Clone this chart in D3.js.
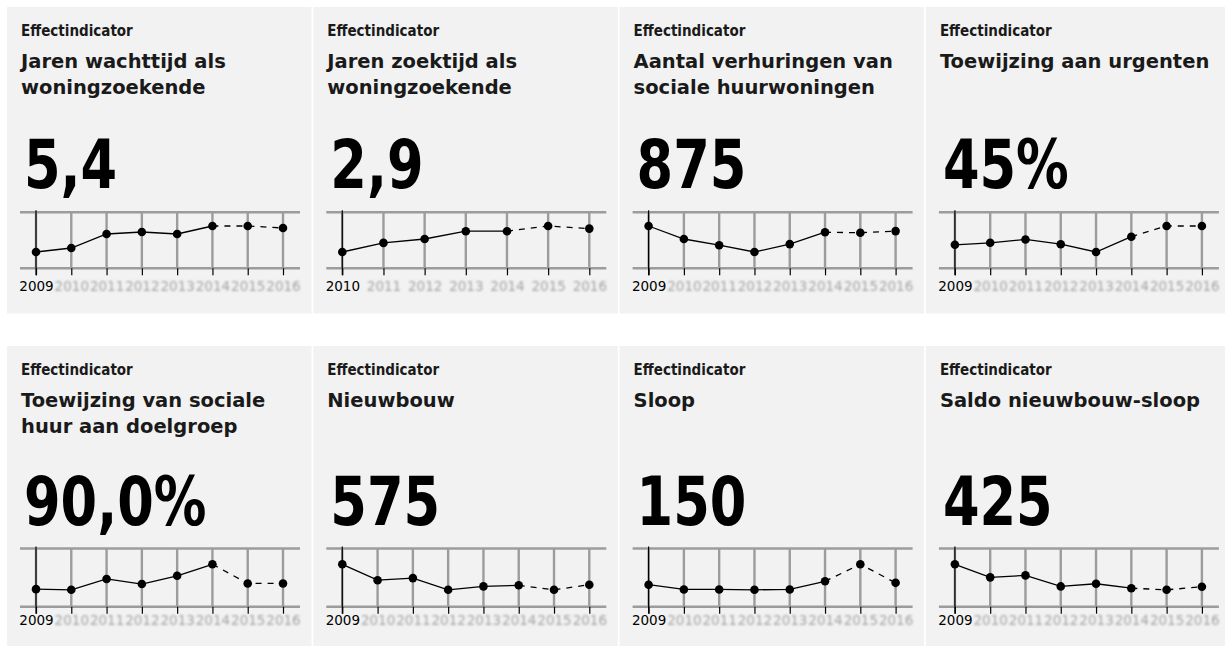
<!DOCTYPE html>
<html><head><meta charset="utf-8">
<script src="https://cdn.jsdelivr.net/npm/d3@7"></script>
<style>
html,body{margin:0;padding:0;background:#fff;}
svg{display:block;}
</style></head>
<body>
<svg id="chart" width="1225" height="646"></svg>
<script>
// ---------- data ----------
const label = "Effectindicator";
const titles = [
  ["Jaren wachttijd als", "woningzoekende"],
  ["Jaren zoektijd als", "woningzoekende"],
  ["Aantal verhuringen van", "sociale huurwoningen"],
  ["Toewijzing aan urgenten"],
  ["Toewijzing van sociale", "huur aan doelgroep"],
  ["Nieuwbouw"],
  ["Sloop"],
  ["Saldo nieuwbouw-sloop"]
];
const headlines = ["5,4", "2,9", "875", "45%", "90,0%", "575", "150", "425"];
const yearsFrom2009 = [2009, 2010, 2011, 2012, 2013, 2014, 2015, 2016];
const yearsFrom2010 = [2010, 2011, 2012, 2013, 2014, 2015, 2016];
const forecastStart = 2014;

const wachttijd   = [4.1, 4.3, 5.0, 5.1, 5.0, 5.4, 5.4, 5.3];
const zoektijd    = [2.1, 2.45, 2.6, 2.9, 2.9, 3.1, 3.0];
const verhuringen = [930, 815, 760, 700, 770, 875, 870, 885];
const urgenten    = [39.7, 41.0, 43.2, 40.1, 35.0, 45.0, 52.0, 52.0];
const doelgroep   = [86.1, 86.0, 87.7, 86.9, 88.2, 90.0, 87.0, 87.0];
const nieuwbouw   = [925, 660, 695, 500, 557, 575, 500, 585];
const sloop       = [130, 102, 102, 100, 102, 150, 250, 141];
const saldo       = [800, 595, 626, 453, 495, 425, 400, 447];

const panelYears = [yearsFrom2009, yearsFrom2010, yearsFrom2009, yearsFrom2009,
                    yearsFrom2009, yearsFrom2009, yearsFrom2009, yearsFrom2009];
const panelValues = [wachttijd, zoektijd, verhuringen, urgenten,
                     doelgroep, nieuwbouw, sloop, saldo];

// ---------- layout ----------
const W = 304.5, H = 306.5, pitchX = 306.3, pitchY = 339, x0 = 7, y0 = 7;
const rowLayout = [
  {bandTop: 205.3, bandBottom: 261.3, dotTop: 219, dotBottom: 245, number: 181, tickLabel: 284},
  {bandTop: 202.5, bandBottom: 260.7, dotTop: 218.3, dotBottom: 243.8, number: 179, tickLabel: 279}
];

const svg = d3.select("#chart");
const defs = svg.append("defs");
defs.append("filter").attr("id", "soft").attr("x", "-5%").attr("y", "-20%").attr("width", "110%").attr("height", "140%")
  .append("feGaussianBlur").attr("stdDeviation", 0.7);
defs.append("filter").attr("id", "blurtext").attr("x", "-10%").attr("y", "-30%").attr("width", "120%").attr("height", "160%")
  .append("feGaussianBlur").attr("stdDeviation", 0.8);

panelValues.forEach((vals, i) => {
  const col = i % 4, row = Math.floor(i / 4);
  const L = rowLayout[row];
  const years = panelYears[i];
  const g = svg.append("g").attr("transform", `translate(${x0 + col * pitchX},${y0 + row * pitchY})`);
  g.append("rect").attr("width", W).attr("height", H).attr("fill", "#f2f2f2");

  g.append("text").attr("x", 14).attr("y", 29)
    .style("font", "bold 15px 'DejaVu Sans Condensed', 'DejaVu Sans'")
    .style("font-stretch", "condensed")
    .attr("fill", "#1a1a1a").text(label);

  titles[i].forEach((t, k) => {
    g.append("text").attr("x", 14).attr("y", 61 + k * 25.5)
      .style("font", "bold 19.5px 'DejaVu Sans'")
      .attr("fill", "#1a1a1a").text(t);
  });

  g.append("text")
    .attr("transform", `translate(17,${L.number}) scale(0.86,1)`)
    .style("font", "bold 68px 'DejaVu Sans Condensed', 'DejaVu Sans'")
    .style("font-stretch", "condensed")
    .attr("fill", "#000").text(headlines[i]);

  const x = d3.scaleLinear().domain(d3.extent(years)).range([29, 276]);
  const y = d3.scaleLinear().domain(d3.extent(vals)).range([L.dotBottom, L.dotTop]);

  // grid (soft gray)
  const grid = g.append("g").attr("filter", "url(#soft)").attr("stroke", "#9c9c9c").attr("stroke-width", 2.4);
  grid.selectAll("line.v").data(years).join("line").attr("class", "v")
    .attr("x1", d => x(d)).attr("x2", d => x(d)).attr("y1", L.bandTop).attr("y2", L.bandBottom);
  [L.bandTop, L.bandBottom].forEach(yy => {
    grid.append("line").attr("x1", 13).attr("x2", 293).attr("y1", yy).attr("y2", yy);
  });

  // axis
  const axis = d3.axisBottom(x).tickValues(years).tickFormat(d3.format("d")).tickSize(7).tickPadding(6.5);
  const ax = g.append("g").attr("transform", `translate(0,${L.bandBottom})`).call(axis);
  ax.select(".domain").remove();
  ax.selectAll(".tick line").attr("stroke", "#000").attr("stroke-width", 1.2);
  ax.selectAll(".tick text")
    .style("font", "13.5px 'DejaVu Sans'")
    .attr("fill", (d, k) => k === 0 ? "#000" : "#a4a4a4")
    .attr("filter", (d, k) => k === 0 ? null : "url(#blurtext)");
  ax.selectAll(".tick text").attr("y", L.tickLabel - L.bandBottom).attr("dy", 0);

  // y axis line
  g.append("line").attr("x1", x(years[0])).attr("x2", x(years[0]))
    .attr("y1", L.bandTop - 2).attr("y2", L.bandBottom + 7).attr("stroke", "#000").attr("stroke-width", 1.2);

  const pts = years.map((yr, k) => ({yr, v: vals[k]}));
  const line = d3.line().x(d => x(d.yr)).y(d => y(d.v));
  g.append("path").datum(pts.filter(d => d.yr <= forecastStart))
    .attr("d", line).attr("fill", "none").attr("stroke", "#000").attr("stroke-width", 1.3);
  g.append("path").datum(pts.filter(d => d.yr >= forecastStart))
    .attr("d", line).attr("fill", "none").attr("stroke", "#000").attr("stroke-width", 1.3)
    .attr("stroke-dasharray", "6,6");
  g.selectAll("circle").data(pts).join("circle")
    .attr("cx", d => x(d.yr)).attr("cy", d => y(d.v)).attr("r", 4.3).attr("fill", "#000");
});
</script>
</body></html>
